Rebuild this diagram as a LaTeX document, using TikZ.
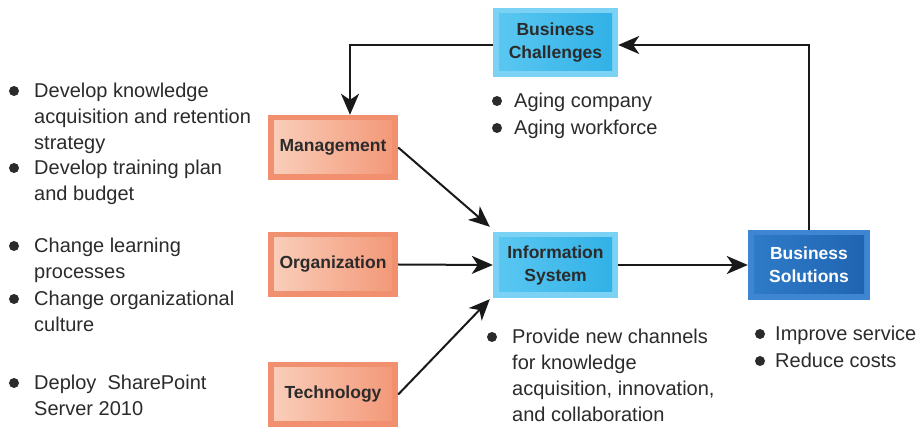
\documentclass[tikz,border=0pt]{standalone}
\usepackage{fontspec}
\setmainfont{Liberation Sans}
\usetikzlibrary{arrows.meta}

\definecolor{textGray}{HTML}{2B2B2B}
\definecolor{cyanEdge}{HTML}{7CD2F4}
\definecolor{cyanLeft}{HTML}{5CC8F2}
\definecolor{cyanRight}{HTML}{2FB0E6}
\definecolor{salmonEdge}{HTML}{F0906E}
\definecolor{salmonLeft}{HTML}{FAD0BC}
\definecolor{salmonRight}{HTML}{F39676}
\definecolor{blueEdge}{HTML}{3E86D2}
\definecolor{blueLeft}{HTML}{2F7CC9}
\definecolor{blueRight}{HTML}{1F63B0}

\tikzset{
  box/.style={inner sep=0pt, align=center, text=textGray,
    font=\fontsize{17.5}{23}\selectfont\bfseries},
  bevel/.style n args={3}{box, fill=#1,
    path picture={\shade[left color=#2, right color=#3]
      ([shift={(6pt,-6pt)}]path picture bounding box.north west) rectangle
      ([shift={(-6pt,6pt)}]path picture bounding box.south east);}},
  cyanbox/.style={bevel={cyanEdge}{cyanLeft}{cyanRight}},
  salmonbox/.style={bevel={salmonEdge}{salmonLeft}{salmonRight},
    minimum width=130pt, minimum height=65pt},
  bluebox/.style={bevel={blueEdge}{blueLeft}{blueRight}, text=white},
  listtext/.style={anchor=base west, inner sep=0pt, align=left, text=textGray,
    font=\fontsize{20}{26}\selectfont},
  dot/.style={fill=textGray},
  arr/.style={draw=black!90, line width=2pt,
    -{Stealth[length=21pt,width=18pt,inset=6pt]}}
}

\begin{document}
\begin{tikzpicture}[x=1pt,y=-1pt]
\path[use as bounding box,fill=white] (0,0) rectangle (919,427);

% boxes
\node[cyanbox, minimum width=125pt, minimum height=69pt] (chal) at (555.5,42.5) {Business\\Challenges};
\node[salmonbox] (mgmt) at (333,147.5) {Management};
\node[salmonbox] (org) at (333,264.5) {Organization};
\node[salmonbox] (tech) at (333,394.5) {Technology};
\node[cyanbox, minimum width=125pt, minimum height=66pt] (info) at (555.5,265) {Information\\System};
\node[bluebox, minimum width=122pt, minimum height=70pt] (sol) at (809,265) {Business\\Solutions};

% connectors
\coordinate (cl) at (350,45);
\coordinate (cr) at (809,45);
\draw[arr] (chal.west |- cl) -- (cl) -- (cl |- mgmt.north);
\draw[arr] (sol.north) -- (cr) -- (chal.east |- cr);
\draw[arr] (mgmt.east) -- ([shift={(-3pt,5pt)}]info.north west);
\draw[arr] (org.east) -- (info.west);
\draw[arr] (tech.east) -- ([shift={(-3pt,-1pt)}]info.south west);
\draw[arr] (info.east) -- (sol.west);

% bullet lists (anchored at the baseline of the last line)
\node[listtext] (m1) at (34,150) {Develop knowledge\\acquisition and retention\\strategy};
\node[listtext] (m2) at (34,201) {Develop training plan\\and budget};
\node[listtext] (o1) at (34,279) {Change learning\\processes};
\node[listtext] (o2) at (34,332) {Change organizational\\culture};
\node[listtext] (t1) at (34,416) {Deploy\ \ SharePoint\\Server 2010};
\node[listtext] (c1) at (514,108) {Aging company};
\node[listtext] (c2) at (514,135) {Aging workforce};
\node[listtext] (i1) at (512,422) {Provide new channels\\for knowledge\\acquisition, innovation,\\and collaboration};
\node[listtext] (s1) at (775,341) {Improve service};
\node[listtext] (s2) at (775,368) {Reduce costs};

\foreach \n/\d/\k in {m1/20/2,m2/20/1,o1/20/1,o2/20/1,t1/20/1,c1/17/0,c2/17/0,i1/20/3,s1/15/0,s2/15/0}
  \fill[dot] ([xshift=-\d pt,yshift=7pt+26pt*\k]\n.base west) circle (5pt);
\end{tikzpicture}
\end{document}
